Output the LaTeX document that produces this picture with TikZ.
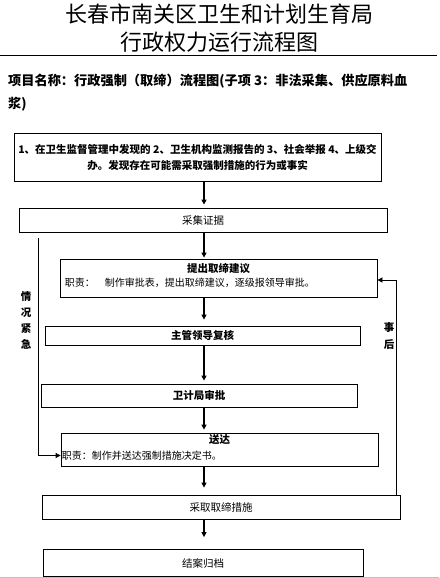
\documentclass[tikz,border=0pt]{standalone}
\usepackage{fontspec}
\setmainfont{Noto Sans CJK SC}
\usetikzlibrary{arrows.meta,positioning}
\tikzset{stepbox/.style={draw,line width=.8pt,inner sep=2pt,font=\fontsize{10.5}{14}\selectfont},
 hd/.style={inner sep=0pt,font=\fontsize{10.5}{12}\selectfont\bfseries},
 duty/.style={inner sep=0pt,font=\fontsize{10}{12}\selectfont},
 side/.style={inner sep=0pt,align=center,font=\fontsize{10.5}{16}\selectfont\bfseries},
 wire/.style={line width=.8pt},
 arr/.style={-{Triangle[length=5pt,width=5pt]},line width=1.3pt,shorten >=3pt},
 back/.style={wire,-{Triangle[length=5pt,width=5pt]}}}
\begin{document}
\begin{tikzpicture}[x=1pt,y=-1pt]
\useasboundingbox (0,0) rectangle (439,578);
\node[font=\fontsize{22}{28}\selectfont] (title1) at (219,14) {长春市南关区卫生和计划生育局};
\node[font=\fontsize{22}{28}\selectfont] (title2) at (219,42) {行政权力运行流程图};
\draw[line width=1pt] (0,56) -- (437,56);
\node[anchor=north west,inner sep=0pt,align=left,font=\fontsize{13.2}{23}\selectfont\bfseries] (proj) at (8,73.5) {项目名称：行政强制（取缔）流程图(子项 3：非法采集、供应原料血\\浆)};
\node[stepbox,minimum width=367pt,minimum height=48pt,align=center,font=\fontsize{10.5}{16}\selectfont\bfseries] (src) at (197.5,157) {1、在卫生监督管理中发现的 2、卫生机构监测报告的 3、社会举报 4、上级交\\办。发现存在可能需采取强制措施的行为或事实};
\node[stepbox,minimum width=368pt,minimum height=24pt] (collect) at (203,220) {采集证据};
\node[stepbox,minimum width=317pt,minimum height=38pt] (propose) at (218.5,278) {};
\node[hd,below=5pt of propose.north] (proposeT) {提出取缔建议};
\node[duty,anchor=west] (proposeD) at ([xshift=5pt,yshift=-5pt]propose.west) {职责：\quad 制作审批表，提出取缔建议，逐级报领导审批。};
\node[stepbox,minimum width=315pt,minimum height=19pt,font=\fontsize{10.5}{12}\selectfont\bfseries] (review) at (202.5,335.5) {主管领导复核};
\node[stepbox,minimum width=316pt,minimum height=23pt,font=\fontsize{10.5}{12}\selectfont\bfseries] (approve) at (199,395.5) {卫计局审批};
\node[stepbox,minimum width=317pt,minimum height=33pt] (serve) at (219.5,449.5) {};
\node[hd,below=2pt of serve.north] (serveT) {送达};
\node[duty,anchor=west] (serveD) at ([xshift=1pt,yshift=-6pt]serve.west) {职责：制作并送达强制措施决定书。};
\node[stepbox,minimum width=358pt,minimum height=24pt] (enforce) at (221,507) {采取取缔措施};
\node[stepbox,minimum width=320pt,minimum height=27pt] (archive) at (203,563) {结案归档};
\coordinate (spine) at (204,0);\coordinate (urgx) at (38,238);\coordinate (afterx) at (396,0);
\draw[arr] (spine |- src.south) -- (spine |- collect.north);
\draw[arr,shorten >=1pt] (spine |- collect.south) -- (spine |- propose.north);
\draw[arr,shorten >=6pt] (spine |- propose.south) -- (spine |- review.north);
\draw[arr] (spine |- review.south) -- (spine |- approve.north);
\draw[arr] (spine |- approve.south) -- (spine |- serve.north);
\draw[arr,shorten >=7pt] (spine |- serve.south) -- (spine |- enforce.north);
\draw[arr,shorten >=12pt] (spine |- enforce.south) -- (spine |- archive.north);
\draw[back] (urgx) |- ([yshift=-6pt]serve.west);
\draw[back] (enforce.north -| afterx) |- ([yshift=-2pt]propose.east);
\node[side] (urgent) at (26,320.5) {情\\况\\紧\\急};
\node[side,font=\fontsize{10.5}{17}\selectfont\bfseries] (after) at (389,336.5) {事\\后};
\draw[gray!50,line width=1pt] (0,577.5) -- (439,577.5);
\end{tikzpicture}
\end{document}
